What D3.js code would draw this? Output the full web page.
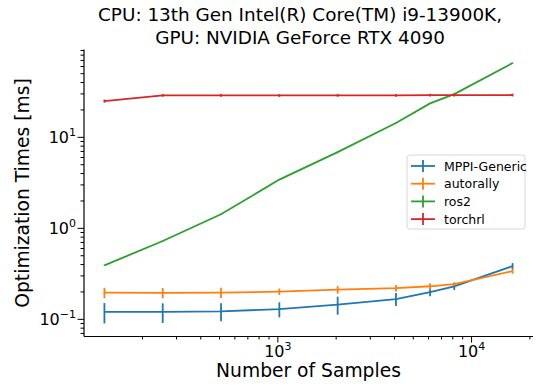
<!DOCTYPE html>
<html>
<head>
<meta charset="utf-8">
<script src="https://cdn.jsdelivr.net/npm/d3@7"></script>
<style>
  html, body { margin: 0; padding: 0; background: #fff; }
  svg text { font-family: "DejaVu Sans", sans-serif; fill: #000; }
</style>
</head>
<body>
<svg id="chart" width="536" height="388"></svg>
<script>
// number of samples (x)
const samples = [128, 256, 512, 1024, 2048, 4096, 6144, 8192, 16384];

// mean optimization times [ms] and error bars
const mppiMean = [0.119, 0.119, 0.121, 0.128, 0.143, 0.165, 0.197, 0.228, 0.38];
const mppiErr = [0.03, 0.029, 0.027, 0.024, 0.032, 0.027, 0.02, 0.02, 0.03];
const autorallyMean = [0.194, 0.193, 0.194, 0.199, 0.209, 0.218, 0.228, 0.241, 0.335];
const autorallyErr = [0.025, 0.025, 0.025, 0.016, 0.02, 0.018, 0.018, 0.012, 0.022];
const ros2Mean = [0.387, 0.716, 1.41, 3.39, 6.8, 14.2, 23.3, 29.5, 64.7];
const ros2Err = [0.004, 0.008, 0.015, 0.04, 0.08, 0.15, 0.25, 0.3, 0.8];
const torchrlMean = [24.7, 28.6, 28.6, 28.5, 28.6, 28.6, 28.7, 28.7, 28.8];
const torchrlErr = [1.0, 1.0, 1.0, 1.0, 1.0, 1.0, 1.0, 1.0, 1.0];

const seriesNames = ["MPPI-Generic", "autorally", "ros2", "torchrl"];
const seriesColors = ["#1f77b4", "#ff7f0e", "#2ca02c", "#d62728"];
const xMajorTicks = [1000, 10000];
const yMajorTicks = [0.1, 1, 10];
const titleLines = ["CPU: 13th Gen Intel(R) Core(TM) i9-13900K,", "GPU: NVIDIA GeForce RTX 4090"];

const series = [
    {name: seriesNames[0], mean: mppiMean, err: mppiErr, color: seriesColors[0]},
    {name: seriesNames[1], mean: autorallyMean, err: autorallyErr, color: seriesColors[1]},
    {name: seriesNames[2], mean: ros2Mean, err: ros2Err, color: seriesColors[2]},
    {name: seriesNames[3], mean: torchrlMean, err: torchrlErr, color: seriesColors[3]},
];

const plotLeft = 84, plotRight = 533, plotTop = 49.5, plotBottom = 336.5;

// log margins of 5% like matplotlib autoscale
function logPad(lo, hi) {
    const a = Math.log10(lo), b = Math.log10(hi), p = (b - a) * 0.05;
    return [Math.pow(10, a - p), Math.pow(10, b + p)];
}
const x = d3.scaleLog()
    .domain(logPad(d3.min(samples), d3.max(samples)))
    .range([plotLeft, plotRight]);

var allLo = [], allHi = [];
series.forEach(s => s.mean.forEach((m, i) => { allLo.push(m - s.err[i]); allHi.push(m + s.err[i]); }));
const y = d3.scaleLog()
    .domain(logPad(d3.min(allLo), d3.max(allHi)))
    .range([plotBottom, plotTop]);

const svg = d3.select("#chart");

function minorTicks(scale) {
    const [d0, d1] = scale.domain();
    var out = [];
    for (let e = Math.floor(Math.log10(d0)); e <= Math.ceil(Math.log10(d1)); e++) {
        for (let k = 2; k <= 9; k++) {
            const v = k * Math.pow(10, e);
            if (v >= d0 && v <= d1) out.push(v);
        }
    }
    return out;
}

function supLabel(sel, exp) {
    sel.text(null);
    sel.append("tspan").text("10");
    sel.append("tspan").attr("dy", "-7").attr("font-size", "11px")
        .text(exp < 0 ? "\u2212" + Math.abs(exp) : exp);
}

// x axis
const xMinor = svg.append("g").attr("transform", "translate(0," + plotBottom + ")")
    .call(d3.axisBottom(x).tickValues(minorTicks(x)).tickSize(3).tickFormat(""));
const xMajor = svg.append("g").attr("transform", "translate(0," + plotBottom + ")")
    .call(d3.axisBottom(x).tickValues(xMajorTicks).tickSize(6).tickFormat(""));
xMajor.selectAll(".tick text")
    .attr("font-size", "16px").attr("y", 20.5).attr("dy", 0)
    .each(function(d) { supLabel(d3.select(this), Math.round(Math.log10(d))); });
xMinor.select(".domain").remove();

// y axis
const yMinor = svg.append("g").attr("transform", "translate(" + plotLeft + ",0)")
    .call(d3.axisLeft(y).tickValues(minorTicks(y)).tickSize(3.5).tickFormat(""));
const yMajor = svg.append("g").attr("transform", "translate(" + plotLeft + ",0)")
    .call(d3.axisLeft(y).tickValues(yMajorTicks).tickSize(6.5).tickPadding(1.5).tickFormat(""));
yMajor.selectAll(".tick text")
    .attr("font-size", "16px").attr("dy", "0.36em")
    .each(function(d) { supLabel(d3.select(this), Math.round(Math.log10(d))); });
yMinor.select(".domain").remove();

// spines without the outer stubs
xMajor.select(".domain").attr("d", "M" + plotLeft + ",0H" + plotRight);
yMajor.select(".domain").attr("d", "M0," + plotTop + "V" + plotBottom);
svg.selectAll(".domain").attr("stroke", "#000").attr("stroke-width", 1.2);
svg.selectAll(".tick line").attr("stroke", "#000").attr("stroke-width", 1);

// series
const line = d3.line().x(d => x(d[0])).y(d => y(d[1]));
series.forEach(s => {
    const pts = samples.map((v, i) => [v, s.mean[i], s.err[i]]);
    const g = svg.append("g");
    g.selectAll("line.err").data(pts).enter().append("line")
        .attr("class", "err")
        .attr("x1", d => x(d[0])).attr("x2", d => x(d[0]))
        .attr("y1", d => y(d[1] - d[2])).attr("y2", d => y(d[1] + d[2]))
        .attr("stroke", s.color).attr("stroke-width", 1.8);
    g.append("path").datum(pts)
        .attr("d", line).attr("fill", "none")
        .attr("stroke", s.color).attr("stroke-width", 1.8);
});

// titles
svg.append("text").attr("x", 300).attr("y", 21).attr("text-anchor", "middle")
    .attr("font-size", "18.4px").text(titleLines[0]);
svg.append("text").attr("x", 300).attr("y", 44).attr("text-anchor", "middle")
    .attr("font-size", "18.4px").text(titleLines[1]);
svg.append("text").attr("x", (plotLeft + plotRight) / 2).attr("y", 377).attr("text-anchor", "middle")
    .attr("font-size", "18.7px").text("Number of Samples");
svg.append("text").attr("transform", "translate(29," + ((plotTop + plotBottom) / 2) + ") rotate(-90)")
    .attr("text-anchor", "middle").attr("font-size", "18.7px").text("Optimization Times [ms]");

// legend
const legend = svg.append("g").attr("transform", "translate(407,155)");
legend.append("rect").attr("width", 118).attr("height", 74).attr("rx", 3)
    .attr("fill", "#fff").attr("fill-opacity", 0.8).attr("stroke", "#d6d6d6");
series.forEach((s, i) => {
    const row = legend.append("g").attr("transform", "translate(0," + (11 + i * 17.7) + ")");
    row.append("line").attr("x1", 4).attr("x2", 28).attr("stroke", s.color).attr("stroke-width", 1.8);
    row.append("line").attr("x1", 16).attr("x2", 16).attr("y1", -6).attr("y2", 6)
        .attr("stroke", s.color).attr("stroke-width", 1.8);
    row.append("text").attr("x", 37).attr("y", 4.5).attr("font-size", "12.5px").text(s.name);
});
</script>
</body>
</html>
